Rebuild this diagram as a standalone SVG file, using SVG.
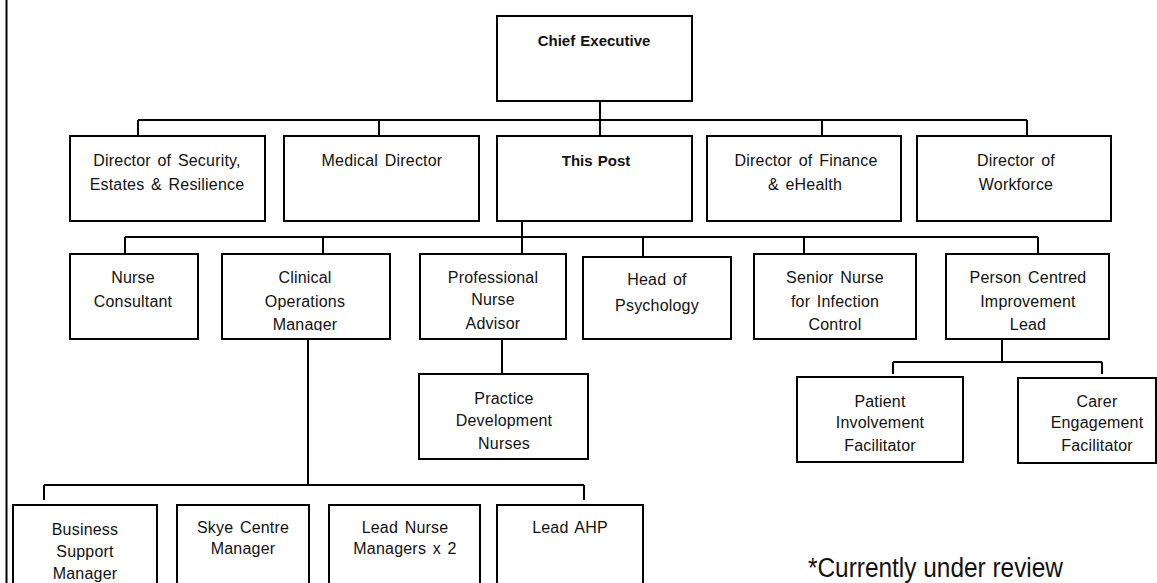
<svg xmlns="http://www.w3.org/2000/svg" width="1157" height="583" viewBox="0 0 1157 583">
<style>
.box{fill:#fff;stroke:#000;stroke-width:2}
.t{font-family:"Liberation Sans",Arial,sans-serif;font-size:16px;fill:#111;text-anchor:middle;letter-spacing:0.2px;word-spacing:2px}
.b{font-size:15px;font-weight:bold;letter-spacing:0;word-spacing:1px}
.c{fill:none;stroke:#000;stroke-width:2}
</style>
<defs>
<clipPath id="clipCOM"><rect x="222" y="254" width="168" height="77"/></clipPath>
</defs>
<rect width="1157" height="583" fill="#fff"/>
<line x1="6.5" y1="0" x2="6.5" y2="583" stroke="#000" stroke-width="2"/>
<g id="connectors" class="c">
<path d="M600 101V136M138 120H1027M138 120V136M379 120V136M822 120V136M1027 120V136"/>
<path d="M522 221V254M125 237H1038M125 237V254M323 237V254M643 237V257M804 237V254M1038 237V254"/>
<path d="M502 339V374"/>
<path d="M1002 339V362M893 362H1102M893 362V374M1102 362V374"/>
<path d="M308 339V485M44 485H584M44 485V500M584 485V500"/>
</g>
<g id="chief-executive"><rect class="box" x="497" y="16" width="195" height="85"/><text class="t b" x="594" y="46">Chief Executive</text></g>
<g id="dir-security"><rect class="box" x="70" y="136" width="195" height="85"/><text class="t" x="167" y="166">Director of Security,</text><text class="t" x="167" y="190">Estates &amp; Resilience</text></g>
<g id="medical-director"><rect class="box" x="284" y="136" width="195" height="85"/><text class="t" x="382" y="166">Medical Director</text></g>
<g id="this-post"><rect class="box" x="497" y="136" width="195" height="85"/><text class="t b" x="596" y="166">This Post</text></g>
<g id="dir-finance"><rect class="box" x="707" y="136" width="194" height="85"/><text class="t" x="806" y="166">Director of Finance</text><text class="t" x="805" y="190">&amp; eHealth</text></g>
<g id="dir-workforce"><rect class="box" x="917" y="136" width="194" height="85"/><text class="t" x="1016" y="166">Director of</text><text class="t" x="1016" y="190">Workforce</text></g>
<g id="nurse-consultant"><rect class="box" x="70" y="254" width="128" height="85"/><text class="t" x="133" y="283">Nurse</text><text class="t" x="133" y="307">Consultant</text></g>
<g id="clinical-ops"><rect class="box" x="222" y="254" width="168" height="85"/><g clip-path="url(#clipCOM)"><text class="t" x="305" y="283">Clinical</text><text class="t" x="305" y="307">Operations</text><text class="t" x="305" y="330">Manager</text></g></g>
<g id="prof-nurse-advisor"><rect class="box" x="420" y="254" width="146" height="85"/><text class="t" x="493" y="283">Professional</text><text class="t" x="493" y="305">Nurse</text><text class="t" x="493" y="329">Advisor</text></g>
<g id="head-psychology"><rect class="box" x="583" y="257" width="148" height="82"/><text class="t" x="657" y="285">Head of</text><text class="t" x="657" y="311">Psychology</text></g>
<g id="senior-nurse-infection"><rect class="box" x="754" y="254" width="162" height="85"/><text class="t" x="835" y="283">Senior Nurse</text><text class="t" x="835" y="307">for Infection</text><text class="t" x="835" y="330">Control</text></g>
<g id="person-centred"><rect class="box" x="946" y="254" width="163" height="85"/><text class="t" x="1028" y="283">Person Centred</text><text class="t" x="1028" y="307">Improvement</text><text class="t" x="1028" y="330">Lead</text></g>
<g id="practice-dev"><rect class="box" x="419" y="374" width="169" height="85"/><text class="t" x="504" y="404">Practice</text><text class="t" x="504" y="426">Development</text><text class="t" x="504" y="449">Nurses</text></g>
<g id="patient-involvement"><rect class="box" x="797" y="377" width="166" height="85"/><text class="t" x="880" y="407">Patient</text><text class="t" x="880" y="428">Involvement</text><text class="t" x="880" y="451">Facilitator</text></g>
<g id="carer-engagement"><rect class="box" x="1018" y="378" width="138" height="85"/><text class="t" x="1097" y="407">Carer</text><text class="t" x="1097" y="428">Engagement</text><text class="t" x="1097" y="451">Facilitator</text></g>
<g id="business-support"><rect class="box" x="13" y="505" width="144" height="90"/><text class="t" x="85" y="535">Business</text><text class="t" x="85" y="557">Support</text><text class="t" x="85" y="579">Manager</text></g>
<g id="skye-centre"><rect class="box" x="177" y="505" width="132" height="90"/><text class="t" x="243" y="533">Skye Centre</text><text class="t" x="243" y="554">Manager</text></g>
<g id="lead-nurse-managers"><rect class="box" x="329" y="505" width="151" height="90"/><text class="t" x="405" y="533">Lead Nurse</text><text class="t" x="405" y="554">Managers x 2</text></g>
<g id="lead-ahp"><rect class="box" x="497" y="505" width="146" height="90"/><text class="t" x="570" y="533">Lead AHP</text></g>
<text x="808" y="577" font-family="'Liberation Sans',Arial,sans-serif" font-size="27" fill="#111" textLength="255" lengthAdjust="spacingAndGlyphs">*Currently under review</text>
</svg>
